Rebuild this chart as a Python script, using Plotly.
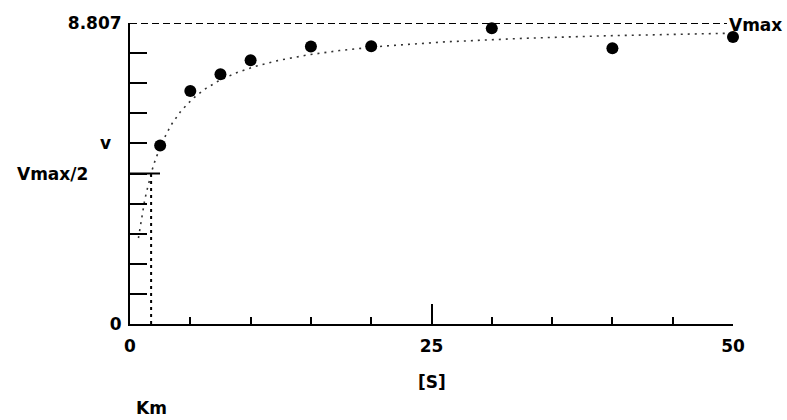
import numpy as np
import plotly.graph_objects as go

# Data
substrate = [2.5, 5, 7.5, 10, 15, 20, 30, 40, 50]
velocity = [5.22, 6.82, 7.31, 7.72, 8.12, 8.13, 8.65, 8.07, 8.40]
vmax = 8.807
km = 1.75
x_tick_vals = [0, 25, 50]
x_tick_text = ["0", "25", "50"]

# Michaelis-Menten fitted curve from the fitted parameters
s_fit = np.linspace(0.7, 50, 300)
v_fit = vmax * s_fit / (km + s_fit)

FONT = "DejaVu Sans"
fnt = dict(family=FONT, size=17, color="black", weight="bold")

fig = go.Figure()

fig.add_trace(go.Scatter(
    x=s_fit, y=v_fit, mode="lines",
    line=dict(color="#333333", width=1.6, dash="2px,5px"),
    hoverinfo="skip", showlegend=False))

fig.add_trace(go.Scatter(
    x=substrate, y=velocity, mode="markers",
    marker=dict(color="black", size=12, symbol="circle"),
    cliponaxis=False, showlegend=False))

# Vmax dashed line
fig.add_shape(type="line", xref="x", yref="y", x0=0, x1=50 * 0.99, y0=vmax, y1=vmax,
              line=dict(color="black", width=2, dash="7px,4px"))
# Km vertical dashed line
fig.add_shape(type="line", xref="x", yref="y", x0=km, x1=km, y0=0, y1=vmax / 2,
              line=dict(color="black", width=2, dash="3px,4px"))
# Vmax/2 long tick
fig.add_shape(type="line", xref="x", yref="y", xsizemode="pixel", xanchor=0,
              x0=0, x1=30, y0=vmax / 2, y1=vmax / 2,
              line=dict(color="black", width=2))

y_ticks = [vmax * i / 10 for i in range(11)]
y_text = [""] * 11
y_text[0] = "0"
y_text[-1] = f"{vmax:.3f}"

fig.update_xaxes(
    range=[0, 50], showgrid=False, zeroline=False,
    showline=True, linecolor="black", linewidth=2,
    tickmode="array", tickvals=x_tick_vals, ticktext=x_tick_text,
    ticks="inside", ticklen=20, tickwidth=2, tickcolor="black",
    ticklabelstandoff=6,
    minor=dict(dtick=5, tick0=0, ticks="inside", ticklen=7, tickwidth=2,
               tickcolor="black", showgrid=False),
    tickfont=fnt,
)
fig.update_yaxes(
    range=[0, vmax], showgrid=False, zeroline=False,
    showline=True, linecolor="black", linewidth=2,
    tickmode="array", tickvals=y_ticks, ticktext=y_text,
    ticks="inside", ticklen=17, tickwidth=2, tickcolor="black",
    ticklabelstandoff=3,
    tickfont=fnt,
)

anns = [
    dict(text="Vmax", xref="x", yref="y", x=50, y=vmax, xanchor="left",
         yanchor="middle", xshift=-6, yshift=-2),
    dict(text="v", xref="paper", yref="y", x=0, y=5.3, xanchor="right",
         yanchor="middle", xshift=-17),
    dict(text="Vmax/2", xref="paper", yref="y", x=0, y=vmax / 2, xanchor="right",
         yanchor="middle", xshift=-40),
    dict(text="[S]", xref="x", yref="paper", x=25, y=-0.193, xanchor="center",
         yanchor="middle"),
    dict(text="Km", xref="x", yref="paper", x=km, y=-0.279, xanchor="center",
         yanchor="middle"),
]
for a in anns:
    a.update(showarrow=False, font=fnt)
fig.update_layout(
    width=787, height=420,
    margin=dict(l=130, r=54, t=23, b=96),
    paper_bgcolor="white", plot_bgcolor="white",
    annotations=anns, showlegend=False,
)

fig.write_html("out.html")
